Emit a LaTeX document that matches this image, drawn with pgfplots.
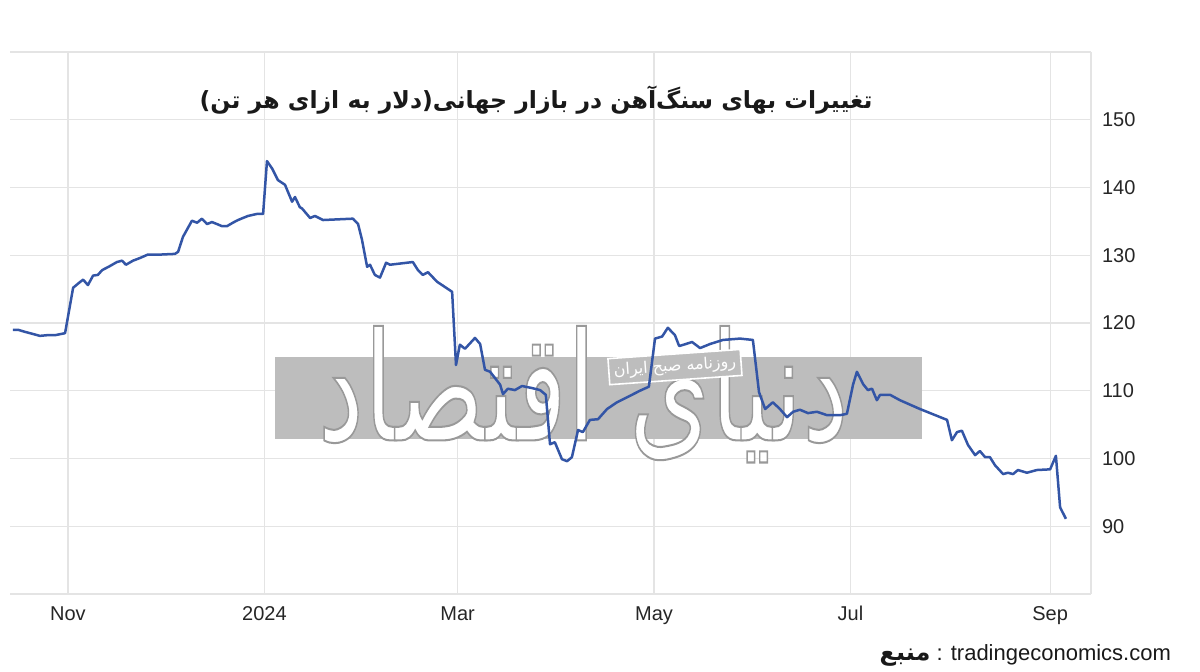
\documentclass[border=0pt]{standalone}
\usepackage{pgfplots}
\pgfplotsset{compat=1.18}
\usepackage{fontspec}
\setmainfont{Liberation Sans}
\newfontfamily\arabicfont[Script=Arabic]{DejaVu Sans}
\TeXXeTstate=1
\definecolor{ironblue}{HTML}{3355A6}
\definecolor{gridgray}{HTML}{E4E4E4}
\definecolor{wmgray}{HTML}{BDBDBD}
\begin{document}
\begin{tikzpicture}
\useasboundingbox (-5pt,-38.5pt) rectangle (595pt,297pt);
\begin{axis}[
  scale only axis, width=540.5pt, height=271pt,
  xmin=-18, xmax=317.7, ymin=80, ymax=160,
  axis line style={draw=none},
  major tick length=0pt,
  xtick={0,61,121,182,243,305},
  xticklabels={Nov,2024,Mar,May,Jul,Sep},
  extra x ticks={317.7}, extra x tick labels={},
  ytick={80,90,...,160},
  yticklabels={,90,100,110,120,130,140,150,},
  yticklabel pos=right,
  grid=major, major grid style={gridgray, line width=0.6pt},
  tick label style={font=\fontsize{10}{12}\selectfont, text=black!85},
  xticklabel style={yshift=-2pt, text height=7.5pt, text depth=2pt},
  yticklabel style={xshift=2pt},
  /pgf/number format/assume math mode=true,
  clip=false,
]
% watermark box
\fill[wmgray] (axis cs:64.3,102.9) rectangle (axis cs:265.2,115.0);
\node[text=white, font=\arabicfont\fontsize{52}{56}\selectfont, yscale=1.45]
  at (axis cs:160,109.5)
  {\special{pdf:literal direct 2 Tr 0.7 w 0.6 0.6 0.6 RG}\beginR دنیای اقتصاد\endR\special{pdf:literal direct 0 Tr}};
\node[draw=white, fill=wmgray, line width=0.8pt, text=white, rotate=4, inner sep=2.5pt,
  font=\arabicfont\fontsize{8}{9}\selectfont]
  at (axis cs:188.5,113.5) {\beginR روزنامه صبح ایران\endR};
\addplot[ironblue, line width=1.25pt, line join=round] coordinates {
(-17.1,119.0) (-15.5,119.0) (-13.4,118.7) (-11.8,118.5) (-8.7,118.1)
(-6.5,118.2) (-4.0,118.2) (-0.9,118.5) (1.6,125.2) (3.1,125.8)
(4.7,126.4) (6.2,125.6) (7.8,127.0) (9.3,127.1) (10.6,127.8)
(13.0,128.4) (15.2,129.0) (16.8,129.2) (18.0,128.6) (20.2,129.2)
(22.4,129.6) (24.8,130.1) (28.6,130.1) (33.2,130.2) (34.2,130.5)
(35.7,132.7) (38.5,135.1) (40.1,134.8) (41.6,135.4) (43.2,134.6)
(44.7,134.9) (46.3,134.6) (47.8,134.3) (49.4,134.3) (51.2,134.8)
(52.8,135.2) (55.9,135.8) (58.7,136.1) (60.6,136.1) (61.8,143.9)
(63.4,142.8) (65.2,141.1) (67.4,140.4) (69.6,137.9) (70.5,138.6)
(72.0,137.1) (72.7,136.9) (75.2,135.5) (76.7,135.8) (79.2,135.2)
(88.5,135.4) (90.1,134.6) (91.3,132.3) (92.9,128.3) (93.8,128.6)
(95.3,127.1) (96.9,126.7) (98.8,128.9) (100.0,128.6) (107.1,129.0)
(108.7,127.8) (110.2,127.1) (111.8,127.5) (114.6,126.1) (116.5,125.5)
(119.3,124.6) (120.5,113.8) (121.7,116.8) (123.3,116.2) (126.4,117.8)
(128.0,116.9) (129.5,113.1) (131.1,112.8) (134.2,110.9) (135.1,109.5)
(136.6,110.3) (138.8,110.1) (141.0,110.7) (144.1,110.4) (146.6,110.1)
(148.4,109.4) (149.7,102.1) (151.2,102.4) (153.4,99.9) (155.0,99.6)
(156.5,100.2) (158.4,104.2) (159.9,103.9) (162.1,105.7) (164.6,105.8)
(167.4,107.3) (170.5,108.3) (173.9,109.1) (177.6,110.0) (180.4,110.6)
(182.3,117.7) (184.5,118.0) (186.3,119.3) (188.5,118.2) (189.8,116.6)
(191.9,116.9) (193.8,117.2) (196.3,116.3) (199.4,116.9) (203.4,117.5)
(208.7,117.7) (212.7,117.5) (214.6,109.8) (216.5,107.3) (218.9,108.3)
(221.1,107.3) (223.3,106.1) (225.2,106.9) (227.3,107.2) (229.8,106.7)
(232.6,106.9) (235.7,106.4) (239.8,106.4) (241.9,106.6) (243.8,110.9)
(245.0,112.8) (246.9,111.0) (248.4,110.1) (249.7,110.3) (251.2,108.6)
(252.2,109.4) (255.3,109.4) (258.4,108.6) (264.6,107.3) (273.0,105.7)
(274.5,102.7) (276.1,103.9) (277.6,104.1) (279.5,102.0) (281.7,100.5)
(283.2,101.1) (284.8,100.2) (286.3,100.2) (287.9,99.0) (290.4,97.7)
(291.9,97.9) (293.5,97.7) (295.0,98.3) (297.8,97.9) (300.9,98.3)
(305.0,98.4) (306.8,100.4) (308.1,92.8) (309.9,91.1)
};
\end{axis}
\node[font=\arabicfont\bfseries\fontsize{11.8}{14}\selectfont, text=black!90]
  at (263pt,247pt) {\beginR تغییرات بهای سنگ‌آهن در بازار جهانی(دلار به ازای هر تن)\endR};
\node[font=\fontsize{11}{13}\selectfont, text=black!90, anchor=east]
  at (584pt,-30.5pt) {{\arabicfont\bfseries\fontsize{12}{13}\selectfont\beginR منبع\endR} : tradingeconomics.com};
\end{tikzpicture}
\end{document}
